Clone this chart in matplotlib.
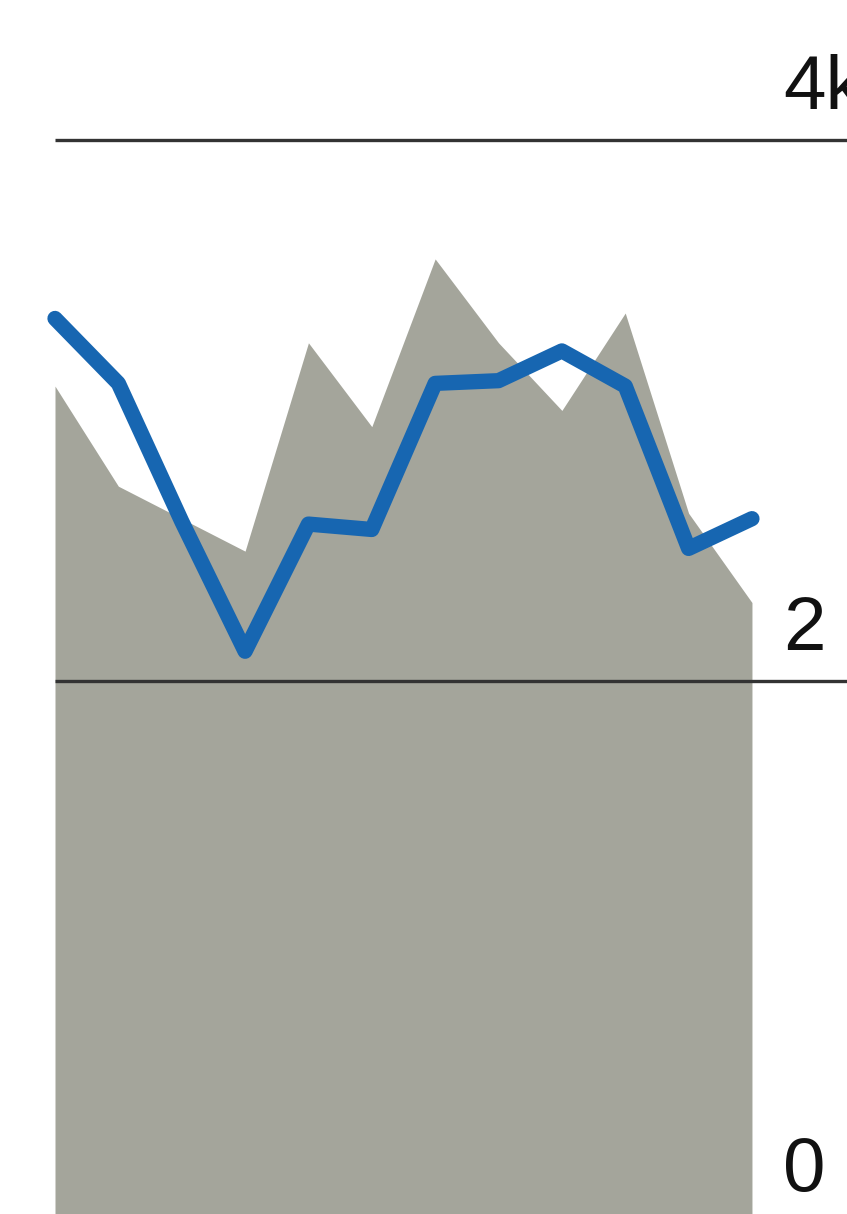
import matplotlib.pyplot as plt

# monthly readings, thousands
months = list(range(12))
area_vals = [3.09, 2.72, 2.60, 2.48, 3.25, 2.94, 3.56, 3.25, 3.00, 3.36, 2.62, 2.29]
line_vals = [3.34, 3.10, 2.59, 2.11, 2.58, 2.56, 3.10, 3.11, 3.22, 3.09, 2.49, 2.60]
ticks = [0, 2, 4]
tick_labels = ["0", "2", "4k"]

plt.rcParams['font.family'] = ['Liberation Sans', 'DejaVu Sans']

fig = plt.figure(figsize=(8.47, 12.14), dpi=100)
ax = fig.add_axes([0, 0, 1, 1])

ax.fill_between(months, 0, area_vals, color="#a4a59b", linewidth=0, zorder=1)
ax.hlines(ticks[1:], 0, 13, color="#333333", linewidth=2.4, zorder=2)
ax.plot(months, line_vals, color="#1766b1", linewidth=11,
        solid_capstyle="round", solid_joinstyle="round", zorder=3)

# right-hand labels sit just above each gridline; the top one runs off the edge
for t, lab in zip(ticks, tick_labels):
    ax.text(11.49, t + 0.115, lab, fontsize=55, color="#111111",
            ha="left", va="baseline", zorder=4)

ax.set_xlim(-0.868, 12.5)
ax.set_ylim(0.03, 4.517)
ax.axis("off")

fig.savefig("out.png", dpi=100)
